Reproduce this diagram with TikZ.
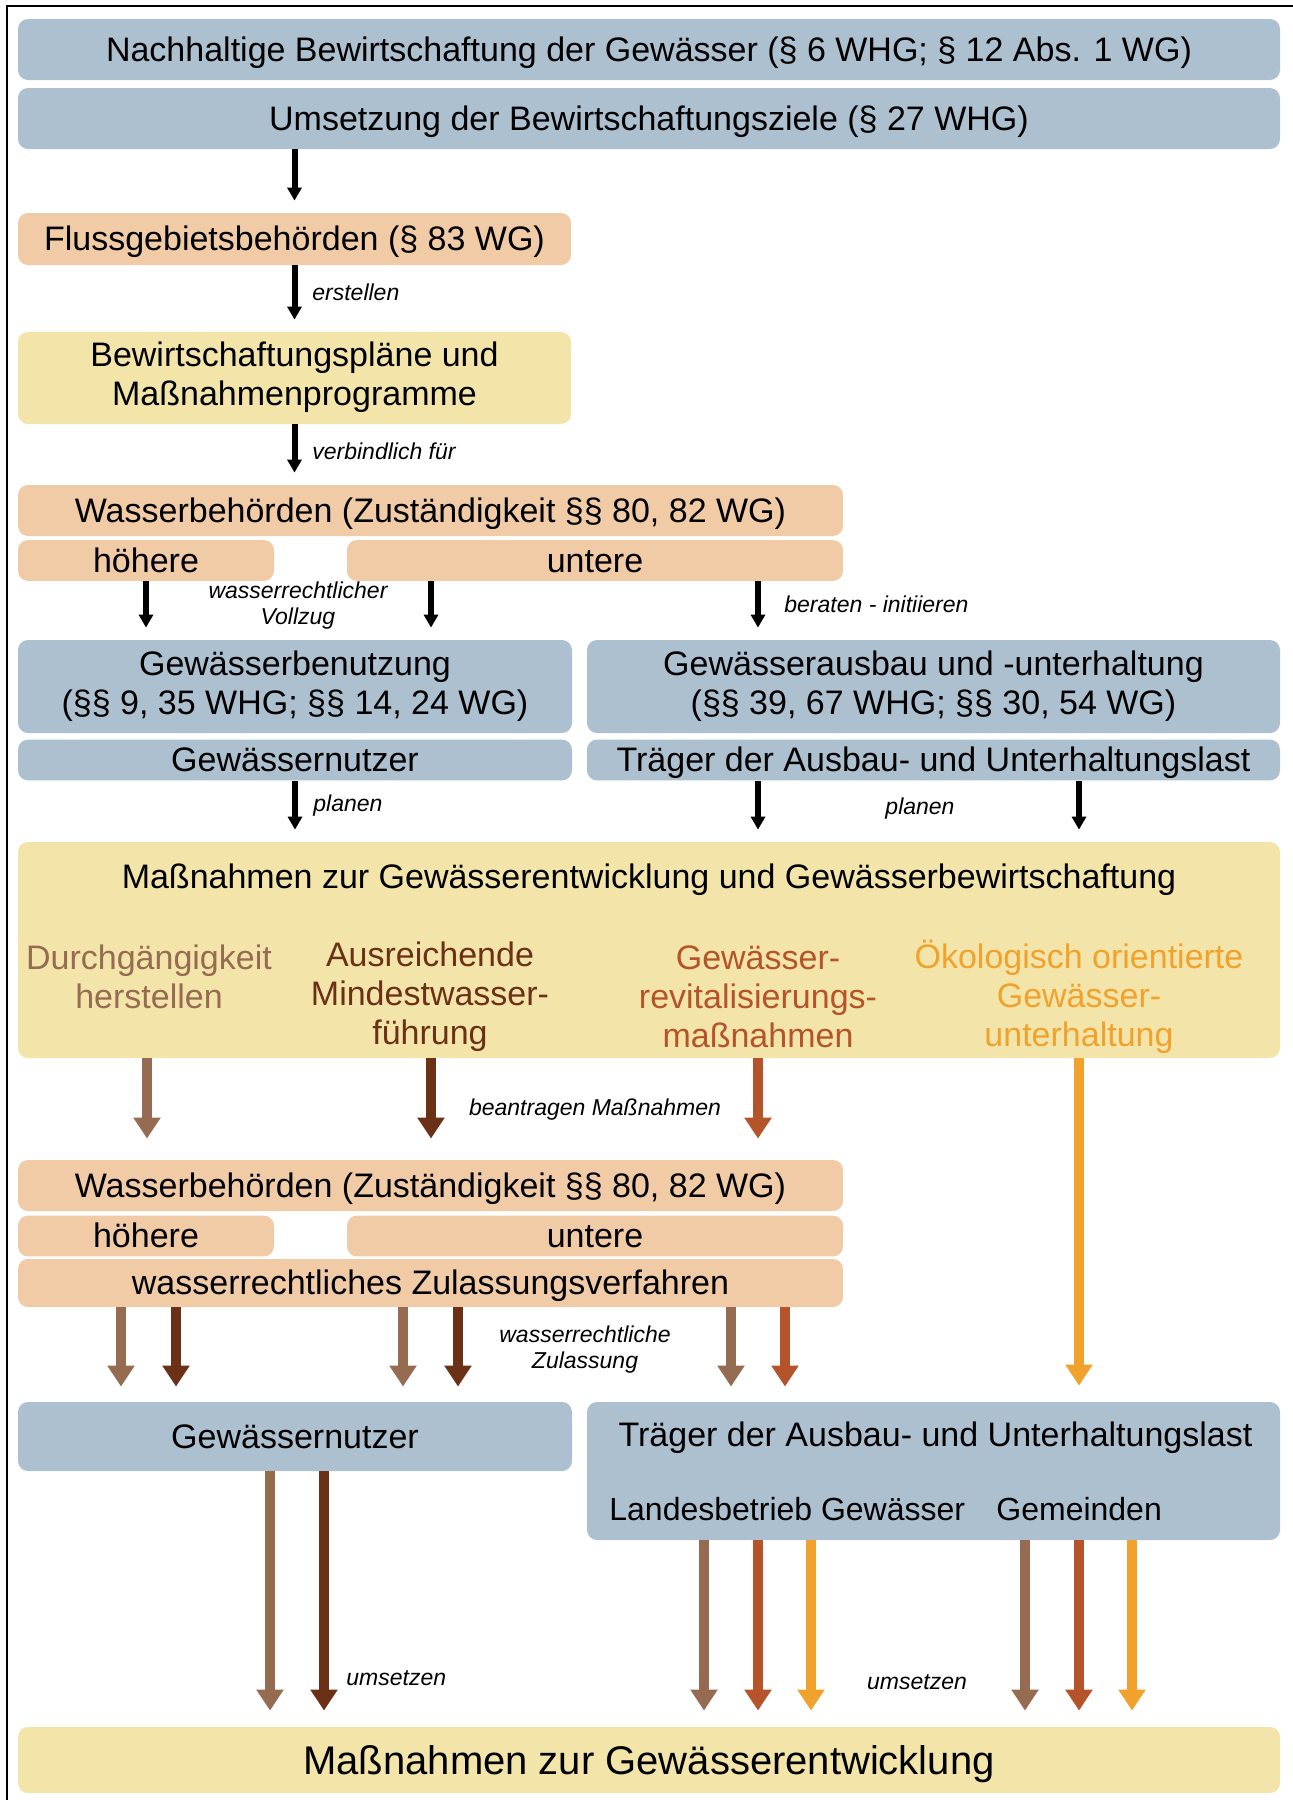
\documentclass[tikz,border=0pt]{standalone}
\usepackage{fontspec}
\setmainfont{Liberation Sans}
\usetikzlibrary{arrows.meta}
\definecolor{boxblue}{HTML}{ADC0CF}
\definecolor{boxpeach}{HTML}{F1CBA6}
\definecolor{boxyellow}{HTML}{F3E5A9}
\definecolor{gbrown}{HTML}{956B52}
\definecolor{dbrown}{HTML}{6A3117}
\definecolor{rust}{HTML}{B5532A}
\definecolor{amber}{HTML}{F0A22D}
\tikzset{
	txt/.style={inner sep=0pt, align=center, font=\fontsize{17}{19.5}\selectfont},
	box/.style={txt, rounded corners=5pt,
		execute at begin node={\rule{0pt}{0.95em}},
		execute at end node={\rule[-0.25em]{0pt}{0pt}}},
	bluebox/.style={box, fill=boxblue},
	peachbox/.style={box, fill=boxpeach},
	yellowbox/.style={box, fill=boxyellow},
	lbl/.style={inner sep=0pt, align=center, font=\fontsize{11.5}{13}\selectfont\itshape},
	blk/.style={line width=3pt, -{Triangle[width=7pt,length=6.5pt]}, shorten >=6pt},
	col/.style={line width=5pt, draw=#1, -{Triangle[width=13pt,length=10.5pt]}, shorten >=7.5pt},
}
\begin{document}
\begin{tikzpicture}[x=0.5pt,y=-0.5pt]
		\useasboundingbox (0,0) rectangle (1293,1800);
		% frame
		\draw[line width=1pt] (6.5,1800) -- (6.5,6) -- (1293,6);
		% column positions
		\coordinate (pA) at (147,0);
		\coordinate (pB) at (431,0);
		\coordinate (pC) at (758,0);
		\coordinate (pD) at (1079,0);
		% upper part
		\node[bluebox, minimum width=631pt, minimum height=30.5pt] (nachhaltig) at (649,49.5)
		{Nachhaltige Bewirtschaftung der Gewässer (§ 6 WHG; § 12 Abs. 1 WG)};
		\node[bluebox, minimum width=631pt, minimum height=30.5pt] (umsetzung) at (649,118.5)
		{Umsetzung der Bewirtschaftungsziele (§ 27 WHG)};
		\node[peachbox, minimum width=276.5pt, minimum height=26pt] (fluss) at (294.5,239)
		{Flussgebietsbehörden (§ 83 WG)};
		\node[yellowbox, minimum width=276.5pt, minimum height=46pt] (plaene) at (294.5,378)
		{Bewirtschaftungspläne und\\Maßnahmenprogramme};
		\node[peachbox, minimum width=412.5pt, minimum height=25.5pt] (wbA) at (430.5,510.5)
		{Wasserbehörden (Zuständigkeit §§ 80, 82 WG)};
		\node[peachbox, minimum width=128pt, minimum height=18.5pt] (hoeA) at (146,560.5) {höhere};
		\node[peachbox, minimum width=248pt, minimum height=18.5pt] (untA) at (595,560.5) {untere};
		\node[bluebox, minimum width=277pt, minimum height=46.5pt] (benutz) at (295,686.5)
		{Gewässerbenutzung\\(§§ 9, 35 WHG; §§ 14, 24 WG)};
		\node[bluebox, minimum width=346.5pt, minimum height=46.5pt] (ausbau) at (933.5,686.5)
		{Gewässerausbau und -unterhaltung\\(§§ 39, 67 WHG; §§ 30, 54 WG)};
		\node[bluebox, minimum width=277pt, minimum height=19pt] (nutzA) at (295,760) {Gewässernutzer};
		\node[bluebox, minimum width=346.5pt, minimum height=19pt] (traegA) at (933.5,760)
		{Träger der Ausbau- und Unterhaltungslast};
		% measures
		\node[yellowbox, minimum width=631pt, minimum height=108pt] (massn) at (649,950) {};
		\node[txt] (massnT) at (649,880) {Maßnahmen zur Gewässerentwicklung und Gewässerbewirtschaftung};
		\node[txt, text=gbrown] (durch) at (149,977) {Durchgängigkeit\\herstellen};
		\node[txt, text=dbrown] (mindest) at (430,997) {Ausreichende\\Mindestwasser-\\führung};
		\node[txt, text=rust] (revital) at (758,997) {Gewässer-\\revitalisierungs-\\maßnahmen};
		\node[txt, text=amber] (oeko) at (1079,997) {Ökologisch orientierte\\Gewässer-\\unterhaltung};
		% lower part
		\node[peachbox, minimum width=412.5pt, minimum height=25.5pt] (wbB) at (430.5,1185.5)
		{Wasserbehörden (Zuständigkeit §§ 80, 82 WG)};
		\node[peachbox, minimum width=128pt, minimum height=18pt] (hoeB) at (146,1236) {höhere};
		\node[peachbox, minimum width=248pt, minimum height=18pt] (untB) at (595,1236) {untere};
		\node[peachbox, minimum width=412.5pt, minimum height=24pt] (zul) at (430.5,1283)
		{wasserrechtliches Zulassungsverfahren};
		\node[bluebox, minimum width=277pt, minimum height=34.5pt] (nutzB) at (295,1436.5) {Gewässernutzer};
		\node[bluebox, minimum width=346.5pt, minimum height=69pt] (traegB) at (933.5,1471) {};
		\node[txt] (traegT) at (935.5,1438) {Träger der Ausbau- und Unterhaltungslast};
		\node[txt, anchor=west, font=\fontsize{16}{19}\selectfont] (lbg) at (609,1509) {Landesbetrieb Gewässer};
		\node[txt, anchor=west, font=\fontsize{16}{19}\selectfont] (gem) at (996,1509) {Gemeinden};
		\node[yellowbox, minimum width=631pt, minimum height=33pt, font=\fontsize{20}{24}\selectfont]
		(entwicklung) at (649,1760) {Maßnahmen zur Gewässerentwicklung};
		% black arrows
		\draw[blk] (umsetzung.south -| fluss.north) -- (fluss.north);
		\draw[blk] (fluss) -- (plaene);
		\draw[blk] (plaene.south) -- (plaene.south |- wbA.north);
		\draw[blk] (hoeA.south) -- (hoeA.south |- benutz.north);
		\draw[blk] (untA.south -| pB) -- (benutz.north -| pB);
		\draw[blk] (untA.south -| pC) -- (ausbau.north -| pC);
		\draw[blk] (nutzA.south) -- (nutzA.south |- massn.north);
		\draw[blk] (traegA.south -| pC) -- (massn.north -| pC);
		\draw[blk] (traegA.south -| pD) -- (massn.north -| pD);
		% coloured arrows
		\draw[col=gbrown, shorten >=10.5pt] (massn.south -| pA) -- (wbB.north -| pA);
		\draw[col=dbrown, shorten >=10.5pt] (massn.south -| pB) -- (wbB.north -| pB);
		\draw[col=rust, shorten >=10.5pt] (massn.south -| pC) -- (wbB.north -| pC);
		\draw[col=amber, shorten >=8pt] (massn.south -| pD) -- (traegB.north -| pD);
		\foreach \xx/\cc in {121/gbrown,176/dbrown,403/gbrown,458/dbrown} {
			\coordinate (q) at (\xx,0);
			\draw[col=\cc] (zul.south -| q) -- (nutzB.north -| q);
		}
		\foreach \xx/\cc in {731/gbrown,785/rust} {
			\coordinate (q) at (\xx,0);
			\draw[col=\cc] (zul.south -| q) -- (traegB.north -| q);
		}
		\foreach \xx/\cc in {270/gbrown,324/dbrown} {
			\coordinate (q) at (\xx,0);
			\draw[col=\cc, shorten >=8pt] (nutzB.south -| q) -- (entwicklung.north -| q);
		}
		\foreach \xx/\cc in {704/gbrown,758/rust,811/amber,1025/gbrown,1079/rust,1132/amber} {
			\coordinate (q) at (\xx,0);
			\draw[col=\cc, shorten >=8pt] (traegB.south -| q) -- (entwicklung.north -| q);
		}
		% annotation
		\node[lbl, anchor=west] (lErst) at (312,292) {erstellen};
		\node[lbl, anchor=west] (lVerb) at (312,451) {verbindlich für};
		\node[lbl] (lVollzug) at (298,606) {wasserrechtlicher\\Vollzug};
		\node[lbl, anchor=west] (lBeraten) at (784,604) {beraten - initiieren};
		\node[lbl, anchor=west] (lPlanen) at (313,806) {planen};
		\node[lbl] (lPlanen2) at (920,809) {planen};
		\node[lbl] (lBeantr) at (595,1110) {beantragen Maßnahmen};
		\node[lbl] (lZul) at (585,1350) {wasserrechtliche\\Zulassung};
		\node[lbl, anchor=west] (lUms) at (346,1678) {umsetzen};
		\node[lbl] (lUms2) at (917,1682) {umsetzen};
	\end{tikzpicture}
\end{document}
